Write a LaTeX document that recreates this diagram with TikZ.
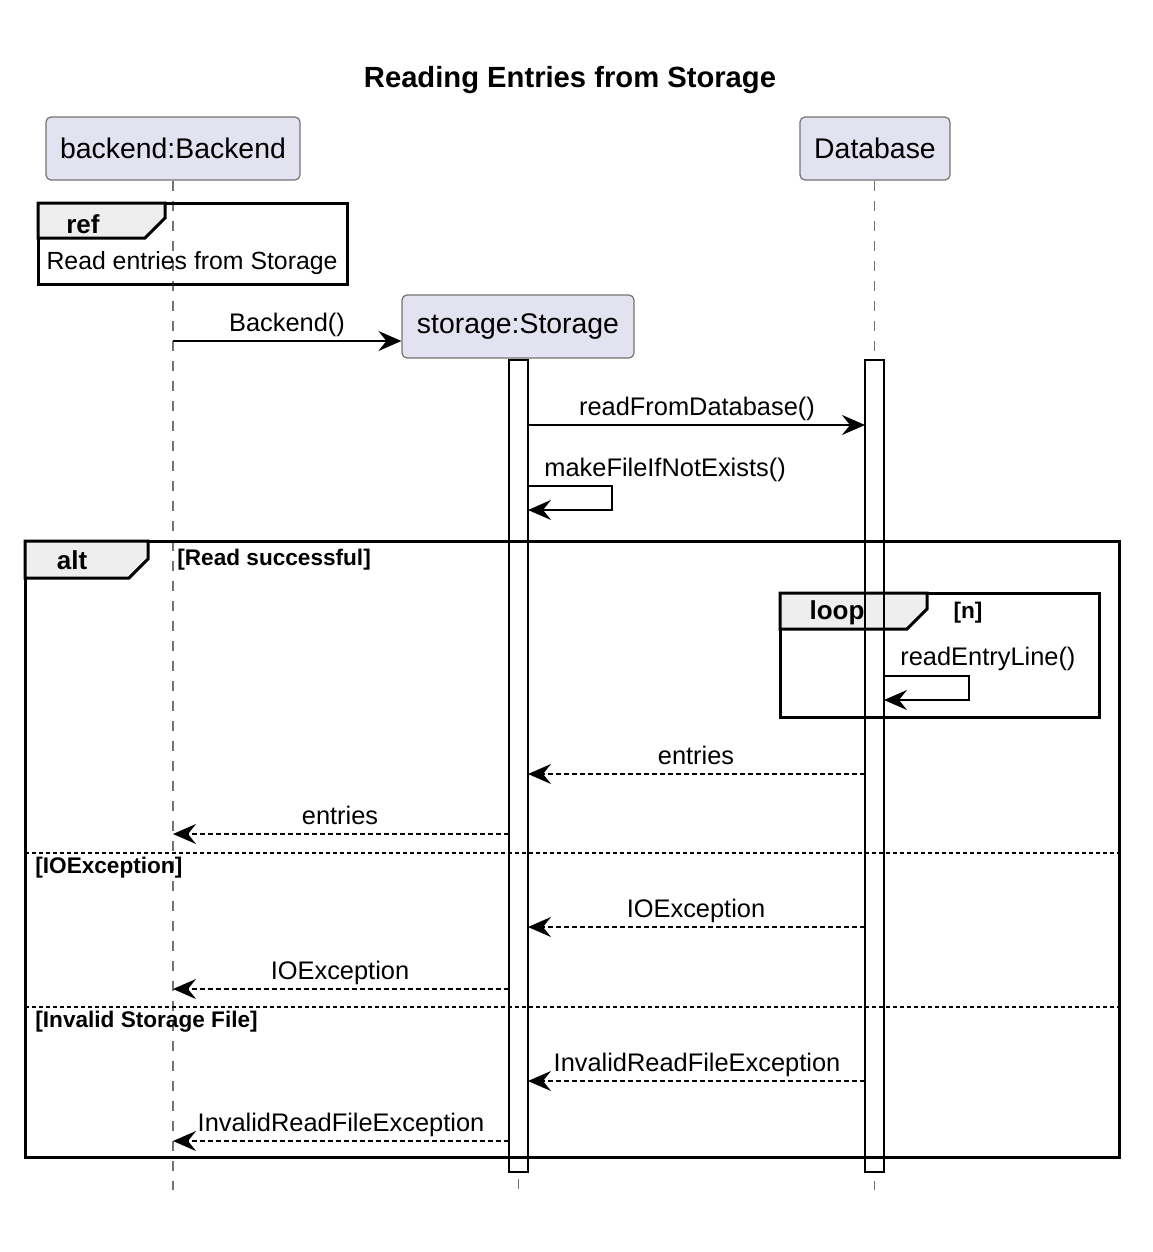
\documentclass[tikz,border=0pt]{standalone}
\usepackage{fontspec}
\setmainfont{Liberation Sans}
\usetikzlibrary{arrows.meta}
\definecolor{partfill}{HTML}{E2E2F0}
\definecolor{tabfill}{HTML}{EEEEEE}
\tikzset{
  titletext/.style={font=\bfseries\fontsize{14.6}{17}\selectfont, inner sep=0pt},
  part/.style={draw=black!55, line width=0.6pt, fill=partfill, rounded corners=2.5pt,
    minimum height=31.5pt, inner sep=0pt, font=\fontsize{14.2}{16}\selectfont},
  life/.style={draw=black!55, line width=0.6pt, dash pattern=on 5pt off 5pt},
  barfill/.style={fill=white, draw=none, inner sep=0pt, outer sep=0pt, minimum width=9.5pt},
  actbar/.style={draw=black, line width=0.75pt},
  msg/.style={line width=0.8pt, -{Stealth[length=11.5pt,width=10pt,inset=4pt]}},
  ret/.style={msg, dash pattern=on 2.5pt off 1.5pt},
  lbl/.style={font=\fontsize{12.7}{15}\selectfont, inner sep=0pt},
  fbox/.style={draw=black, line width=1.5pt},
  tabshape/.style={draw=black, line width=1.5pt, fill=tabfill, line join=miter},
  tablbl/.style={font=\bfseries\fontsize{13}{15}\selectfont, inner sep=0pt},
  guard/.style={font=\bfseries\fontsize{11.3}{13}\selectfont, inner sep=0pt},
  sep/.style={draw=black, line width=0.6pt, dash pattern=on 2pt off 1.5pt},
}
\begin{document}
\begin{tikzpicture}[x=0.5pt,y=-0.5pt]
\useasboundingbox (0,0) rectangle (1152,1252);
\node[titletext] (title) at (570,80) {Reading Entries from Storage};

% participants
\node[part, minimum width=127pt] (backend) at (173,148.5) {backend:Backend};
\node[part, minimum width=75pt] (db) at (875,148.5) {Database};
\node[part, minimum width=116pt] (storage) at (518,326.5) {storage:Storage};

% lifelines
\coordinate (bEnd) at (173,1190);
\coordinate (sEnd) at (518.5,1190);
\coordinate (dEnd) at (874.5,1190);
\draw[life] (backend.south) -- (bEnd);
\draw[life] (storage.south -| sEnd) -- (sEnd);
\draw[life] (db.south -| dEnd) -- (dEnd);

% activation bar fills
\node[barfill, minimum height=406pt, anchor=north] (actS) at (518.5,360) {};
\node[barfill, minimum height=406pt, anchor=north] (actD) at (874.5,360) {};

% ref frame
\draw[fbox] (38,203) rectangle (347,284);
\filldraw[tabshape] (38,203) -- (165,203) -- (165,218) -- (145,238) -- (38,238) -- cycle;
\node[tablbl] (reflbl) at (83,224) {ref};
\node[lbl, font=\fontsize{12.4}{15}\selectfont] (reftext) at (192,263) {Read entries from Storage};

% alt frame
\draw[fbox] (25,541) rectangle (1119,1157);
\filldraw[tabshape] (25,541) -- (148,541) -- (148,559) -- (129,578) -- (25,578) -- cycle;
\node[tablbl] (altlbl) at (72,560) {alt};
\node[guard, anchor=west] (g1) at (177,560) {[Read successful]};
\draw[sep] (25,853) -- (1119,853);
\node[guard, anchor=west] (g2) at (35,868) {[IOException]};
\draw[sep] (25,1007) -- (1119,1007);
\node[guard, anchor=west] (g3) at (35,1022) {[Invalid Storage File]};

% loop frame
\draw[fbox] (780,593) rectangle (1099,717);
\filldraw[tabshape] (780,593) -- (927,593) -- (927,609) -- (907,629) -- (780,629) -- cycle;
\node[tablbl] (looplbl) at (837,613) {loop};
\node[guard] (g4) at (968,613) {[n]};

% activation bar outlines
\draw[actbar] (actS.north west) rectangle (actS.south east);
\draw[actbar] (actD.north west) rectangle (actD.south east);

% messages
\coordinate (m1s) at (173,341);
\draw[msg] (m1s) -- (m1s -| storage.west);
\node[lbl, anchor=base] (l1) at (287,331) {Backend()};

\coordinate (m2s) at (528,425);
\coordinate (m2e) at (865,425);
\draw[msg] (m2s) -- (m2e);
\node[lbl, anchor=base] (l2) at (697,415) {readFromDatabase()};

\coordinate (m3s) at (528,486);
\draw[msg] (m3s) -- ++(84,0) -- ++(0,24) -- ++(-84,0);
\node[lbl, anchor=base west] (l3) at (544,476) {makeFileIfNotExists()};

\coordinate (m4s) at (884,676);
\draw[msg] (m4s) -- ++(85,0) -- ++(0,24) -- ++(-85,0);
\node[lbl, anchor=base west] (l4) at (900,665) {readEntryLine()};

\coordinate (r1s) at (865,774);
\coordinate (r1e) at (528,774);
\draw[ret] (r1s) -- (r1e);
\node[lbl, anchor=base] (lr1) at (696,764) {entries};

\coordinate (r2s) at (509,834);
\coordinate (r2e) at (173,834);
\draw[ret] (r2s) -- (r2e);
\node[lbl, anchor=base] (lr2) at (340,824) {entries};

\coordinate (r3s) at (865,927);
\coordinate (r3e) at (528,927);
\draw[ret] (r3s) -- (r3e);
\node[lbl, anchor=base] (lr3) at (696,917) {IOException};

\coordinate (r4s) at (509,989);
\coordinate (r4e) at (173,989);
\draw[ret] (r4s) -- (r4e);
\node[lbl, anchor=base] (lr4) at (340,979) {IOException};

\coordinate (r5s) at (865,1081);
\coordinate (r5e) at (528,1081);
\draw[ret] (r5s) -- (r5e);
\node[lbl, anchor=base] (lr5) at (697,1071) {InvalidReadFileException};

\coordinate (r6s) at (509,1141);
\coordinate (r6e) at (173,1141);
\draw[ret] (r6s) -- (r6e);
\node[lbl, anchor=base] (lr6) at (341,1131) {InvalidReadFileException};
\end{tikzpicture}
\end{document}
